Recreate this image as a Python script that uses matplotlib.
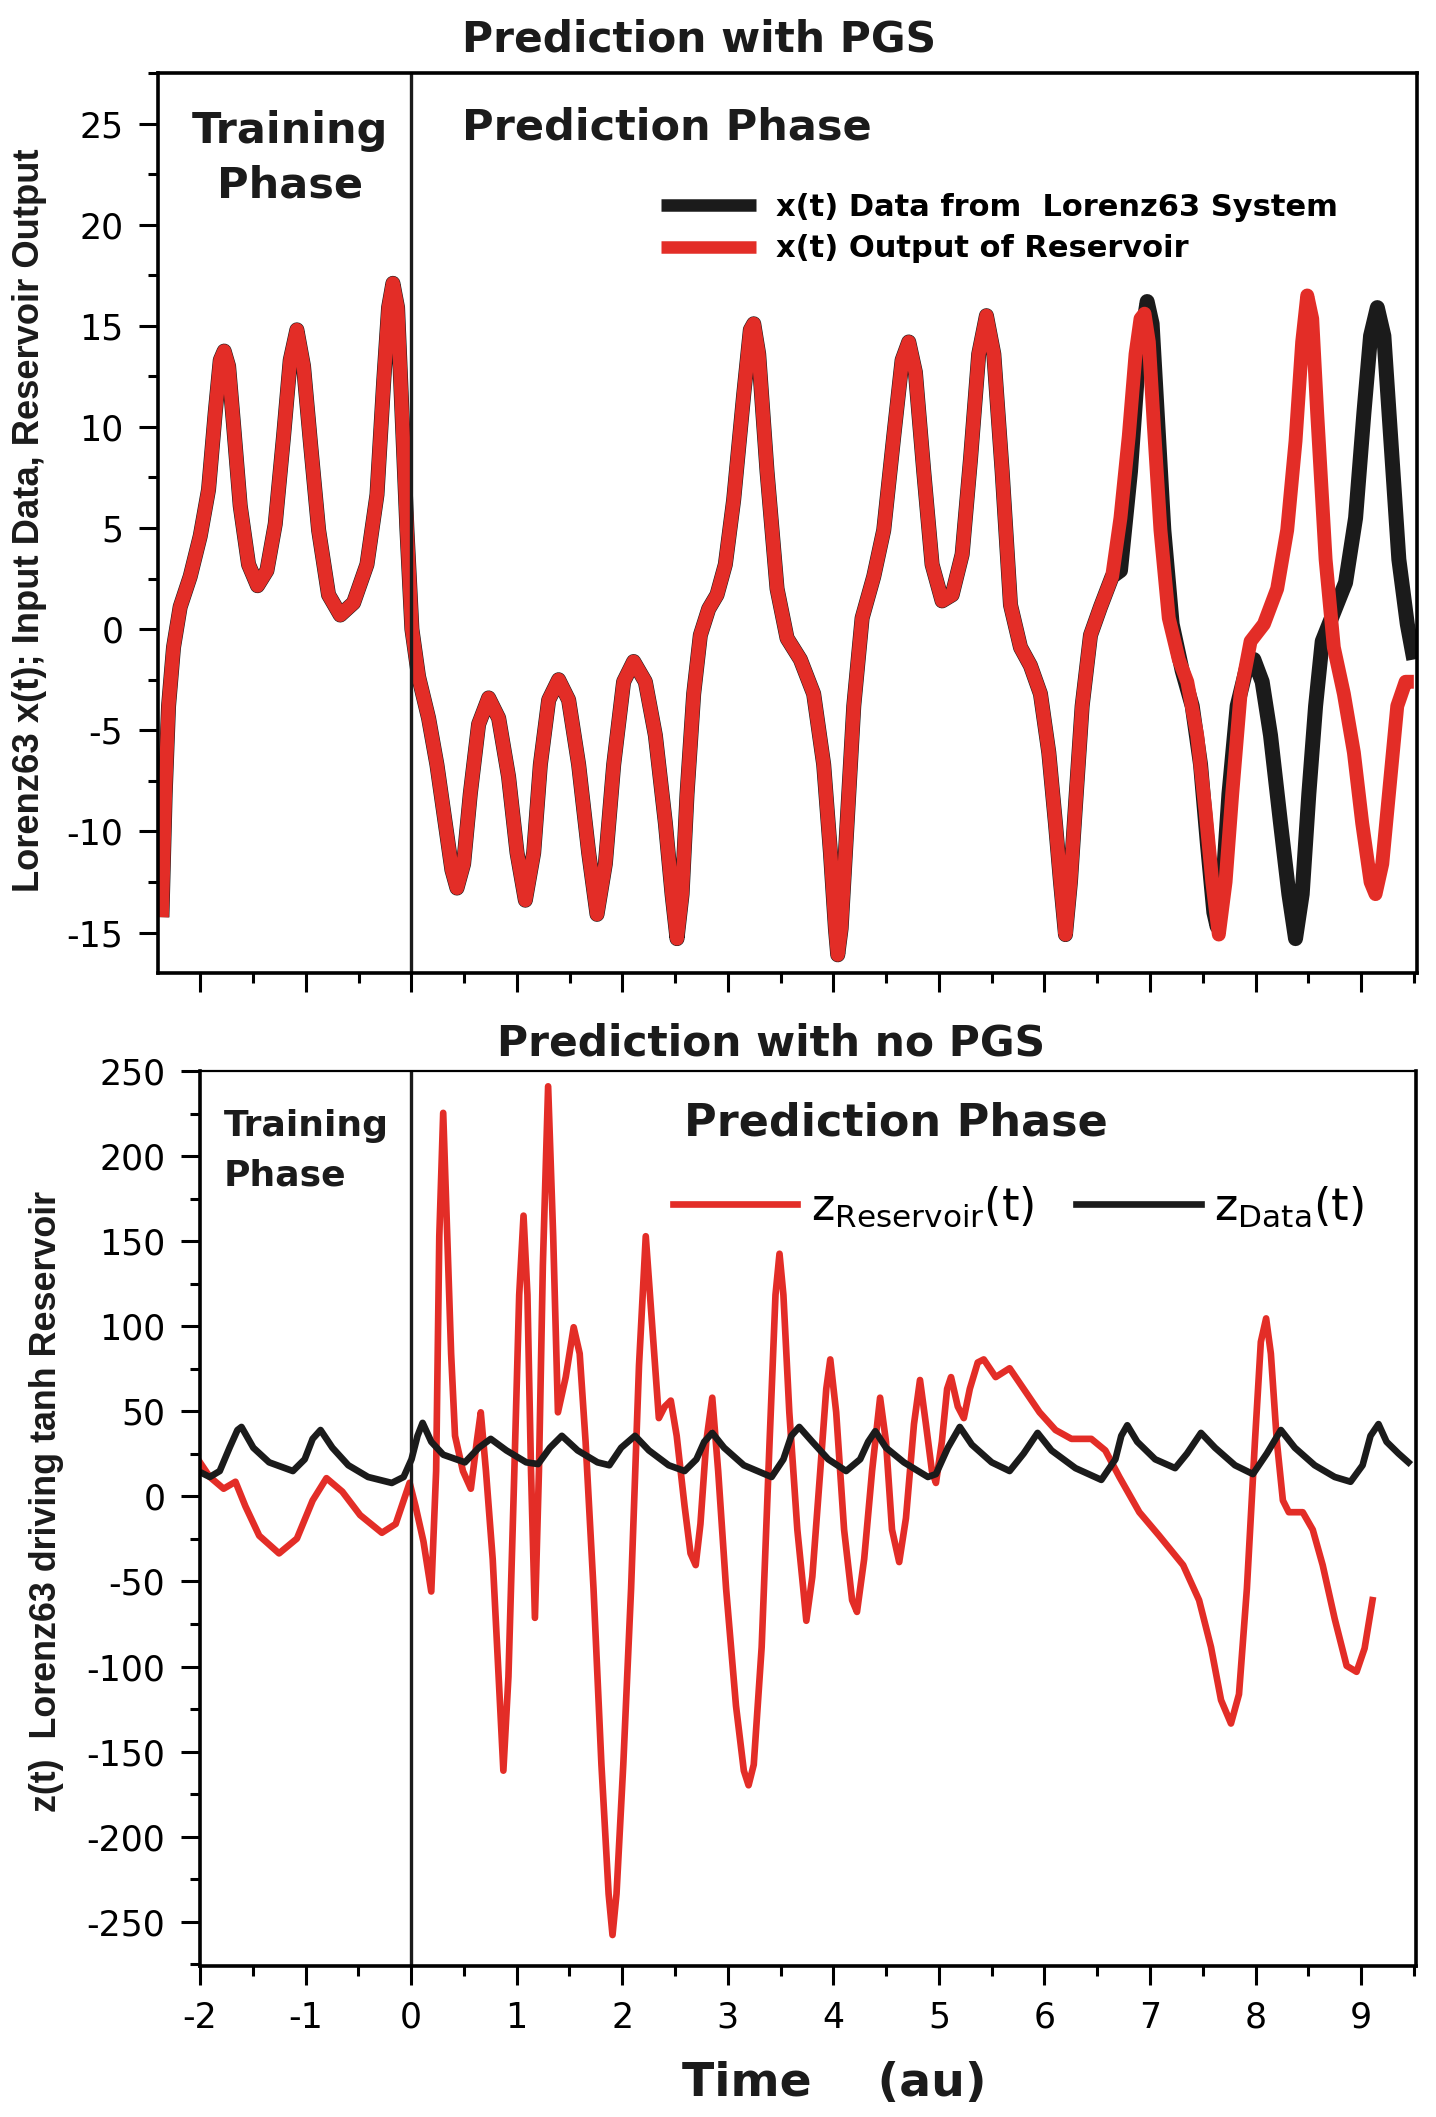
import matplotlib
matplotlib.use("Agg")
import matplotlib.pyplot as plt
from matplotlib import font_manager
from matplotlib.ticker import MultipleLocator

# ── data (t, value) ───────────────────────────────────────────────────────────
# top panel, x(t) with PGS: data and reservoir coincide until t ~ 6.65
top_common = [
    (-2.363, -14.24), (-2.332, -8.15), (-2.300, -3.8), (-2.253, -0.9), (-2.190, 1.1),
    (-2.095, 2.6), (-2.000, 4.6), (-1.921, 6.9), (-1.858, 10.7), (-1.810, 13.3),
    (-1.773, 13.75), (-1.731, 13.0), (-1.684, 10.1), (-1.621, 6.1), (-1.542, 3.2),
    (-1.457, 2.15), (-1.368, 2.9), (-1.289, 5.2), (-1.210, 9.55), (-1.147, 13.3),
    (-1.084, 14.8), (-1.021, 13.0), (-0.957, 9.3), (-0.878, 4.9), (-0.784, 1.7),
    (-0.673, 0.7), (-0.547, 1.3), (-0.420, 3.2), (-0.325, 6.65), (-0.262, 12.2),
    (-0.215, 15.9), (-0.174, 17.1), (-0.130, 15.9), (-0.088, 10.7), (-0.041, 4.9),
    (0.006, 0.0), (0.069, -2.35), (0.164, -4.4), (0.243, -6.7), (0.322, -9.6),
    (0.385, -11.9), (0.433, -12.8), (0.496, -11.6), (0.559, -8.15), (0.638, -4.7),
    (0.733, -3.4), (0.828, -4.4), (0.922, -7.3), (1.002, -11.05), (1.081, -13.4),
    (1.160, -11.05), (1.223, -6.7), (1.302, -3.5), (1.396, -2.5), (1.491, -3.5),
    (1.586, -6.7), (1.681, -11.05), (1.760, -14.1), (1.839, -11.6), (1.918, -6.7),
    (2.012, -2.6), (2.107, -1.6), (2.218, -2.6), (2.313, -5.25), (2.408, -9.6),
    (2.471, -13.1), (2.518, -15.3), (2.566, -13.1), (2.613, -8.15), (2.676, -3.2),
    (2.739, -0.3), (2.818, 1.0), (2.897, 1.7), (2.976, 3.2), (3.055, 6.4),
    (3.150, 11.6), (3.213, 14.8), (3.245, 15.1), (3.292, 13.6), (3.371, 7.8),
    (3.466, 2.0), (3.561, -0.45), (3.687, -1.5), (3.813, -3.2), (3.908, -6.7),
    (3.972, -11.05), (4.019, -14.8), (4.041, -16.1), (4.073, -14.8), (4.130, -9.6),
    (4.193, -3.8), (4.272, 0.55), (4.382, 2.6), (4.477, 4.9), (4.572, 9.55),
    (4.651, 13.3), (4.714, 14.2), (4.777, 12.7), (4.856, 7.8), (4.935, 3.2),
    (5.030, 1.4), (5.125, 1.7), (5.220, 3.7), (5.299, 8.4), (5.377, 13.6),
    (5.450, 15.5), (5.520, 13.6), (5.599, 7.8), (5.678, 1.2), (5.773, -0.9),
    (5.867, -1.8), (5.962, -3.2), (6.041, -6.1), (6.104, -9.6), (6.152, -12.5),
    (6.199, -15.1), (6.246, -12.5), (6.294, -8.7), (6.357, -3.8), (6.436, -0.3),
    (6.531, 1.1), (6.641, 2.6),
]
top_data_tail = [
    (6.720, 2.9), (6.815, 7.8), (6.894, 13.6), (6.973, 16.2), (7.020, 15.1),
    (7.068, 10.7), (7.131, 4.9), (7.210, 0.25), (7.305, -2.05), (7.400, -3.8),
    (7.479, -6.7), (7.542, -10.5), (7.605, -14.0), (7.636, -14.7), (7.684, -13.1),
    (7.748, -8.15), (7.826, -3.8), (7.920, -1.8), (7.984, -1.5), (8.063, -2.6),
    (8.142, -5.25), (8.237, -9.6), (8.316, -13.1), (8.379, -15.3), (8.442, -13.1),
    (8.505, -8.15), (8.569, -3.8), (8.632, -0.6), (8.742, 0.85), (8.853, 2.3),
    (8.948, 5.5), (9.027, 10.7), (9.090, 14.5), (9.154, 15.9), (9.216, 14.5),
    (9.280, 9.55), (9.358, 3.45), (9.438, 0.25), (9.500, -1.5),
]
top_res_tail = [
    (6.720, 5.5), (6.799, 9.55), (6.863, 13.6), (6.910, 15.35), (6.948, 15.6),
    (6.989, 14.2), (7.036, 10.1), (7.099, 4.9), (7.178, 0.55), (7.273, -1.5),
    (7.353, -2.6), (7.447, -5.25), (7.526, -9.0), (7.590, -12.5), (7.652, -15.1),
    (7.716, -12.5), (7.779, -8.15), (7.858, -3.2), (7.953, -0.6), (8.079, 0.25),
    (8.205, 2.0), (8.300, 4.9), (8.379, 9.3), (8.442, 14.2), (8.490, 16.5),
    (8.537, 15.35), (8.584, 10.7), (8.664, 3.45), (8.742, -0.9), (8.837, -3.2),
    (8.932, -6.1), (9.011, -9.6), (9.090, -12.5), (9.137, -13.1), (9.201, -11.6),
    (9.264, -8.15), (9.343, -3.8), (9.422, -2.6), (9.500, -2.6),
]

# bottom panel, z(t) without PGS
bot_res = [
    (-2.02, 21.8), (-1.907, 11.4), (-1.776, 4.5), (-1.664, 8.6), (-1.570, -5.8),
    (-1.439, -23.1), (-1.251, -33.5), (-1.082, -24.8), (-0.933, -2.4), (-0.802, 10.7),
    (-0.652, 2.8), (-0.483, -11.0), (-0.277, -21.4), (-0.146, -16.2), (-0.052, 1.1),
    (-0.014, 8.0), (0.042, -5.8), (0.117, -26.5), (0.191, -55.9), (0.237, 14.9),
    (0.267, 152.9), (0.304, 225.4), (0.342, 152.9), (0.379, 83.9), (0.416, 35.6),
    (0.491, 14.9), (0.566, 4.5), (0.622, 32.1), (0.660, 49.4), (0.709, 14.9),
    (0.773, -36.9), (0.829, -106), (0.874, -161.2), (0.922, -106), (0.978, 14.9),
    (1.024, 118.4), (1.065, 165), (1.102, 118.4), (1.136, 14.9), (1.173, -71.4),
    (1.211, 14.9), (1.248, 135.6), (1.298, 241), (1.346, 152.9), (1.391, 49.4),
    (1.465, 70.1), (1.540, 99.4), (1.597, 83.9), (1.653, 32.1), (1.728, -54.2),
    (1.803, -157.7), (1.871, -233.6), (1.908, -257.8), (1.946, -233.6), (2.010, -157.7),
    (2.084, -54.2), (2.159, 77), (2.223, 152.9), (2.283, 101.2), (2.347, 46),
    (2.403, 52.8), (2.460, 56.3), (2.516, 35.6), (2.591, -5.8), (2.647, -33.5),
    (2.696, -40.4), (2.741, -16.2), (2.796, 32.1), (2.853, 58), (2.909, 14.9),
    (2.984, -54.2), (3.078, -123.2), (3.152, -161.2), (3.197, -169.8), (3.246, -157.7),
    (3.321, -88.6), (3.396, 32.1), (3.452, 118.4), (3.490, 142.6), (3.527, 118.4),
    (3.583, 49.4), (3.659, -19.6), (3.715, -54.2), (3.744, -73.1), (3.801, -47.2),
    (3.876, 14.9), (3.933, 63.2), (3.971, 80.5), (4.027, 49.4), (4.102, -19.6),
    (4.178, -61), (4.224, -67.9), (4.292, -36.9), (4.367, 14.9), (4.443, 58),
    (4.499, 32.1), (4.556, -19.6), (4.624, -38.6), (4.688, -12.8), (4.764, 42.5),
    (4.821, 68.4), (4.877, 42.5), (4.934, 14.9), (4.972, 7.9), (5.028, 32.1),
    (5.078, 63.2), (5.115, 70.1), (5.179, 52.8), (5.236, 46), (5.293, 63.2),
    (5.368, 78.7), (5.425, 80.5), (5.538, 70.1), (5.670, 75.3), (5.803, 63.2),
    (5.954, 49.4), (6.105, 39), (6.256, 33.8), (6.444, 33.8), (6.577, 27),
    (6.710, 11.4), (6.899, -9.3), (7.087, -23.1), (7.314, -40.4), (7.465, -61),
    (7.578, -88.6), (7.673, -119.7), (7.767, -133.5), (7.843, -116.3), (7.918, -54.2),
    (7.994, 32.1), (8.050, 90.8), (8.100, 104.6), (8.145, 83.9), (8.202, 32.1),
    (8.259, -2.4), (8.315, -9.3), (8.447, -9.3), (8.542, -19.6), (8.636, -40.4),
    (8.750, -72), (8.863, -99.6), (8.957, -103.1), (9.033, -89.3), (9.108, -61),
]
bot_data = [
    (-2.02, 14.9), (-1.907, 11.4), (-1.813, 14.9), (-1.720, 28.6), (-1.645, 39),
    (-1.607, 40.8), (-1.495, 28.6), (-1.345, 20), (-1.120, 14.9), (-1.008, 21.8),
    (-0.933, 33.8), (-0.858, 39), (-0.746, 28.6), (-0.595, 18.3), (-0.408, 11.4),
    (-0.183, 7.9), (-0.071, 11.4), (0.004, 21.8), (0.061, 35.6), (0.109, 43.2),
    (0.191, 32.1), (0.304, 24.5), (0.510, 20), (0.641, 28.6), (0.754, 33.8),
    (0.903, 27), (1.091, 20), (1.203, 19), (1.315, 28.6), (1.428, 35.6),
    (1.578, 27), (1.766, 20), (1.878, 18.3), (1.990, 28.6), (2.121, 35.6),
    (2.253, 27), (2.440, 18.3), (2.591, 14.9), (2.703, 21.8), (2.777, 32.1),
    (2.853, 37.3), (2.965, 28.6), (3.152, 18.3), (3.415, 11.4), (3.527, 21.8),
    (3.602, 35.6), (3.677, 40.8), (3.801, 32.1), (3.952, 21.8), (4.121, 14.9),
    (4.254, 21.8), (4.330, 32.1), (4.397, 38.3), (4.499, 28.6), (4.669, 20),
    (4.896, 11.4), (4.972, 13.1), (5.085, 28.6), (5.198, 40.8), (5.312, 30.4),
    (5.500, 20), (5.670, 14.9), (5.803, 25.2), (5.935, 37.3), (6.067, 27),
    (6.294, 16.6), (6.539, 9.7), (6.672, 21.8), (6.728, 35.6), (6.785, 41.8),
    (6.879, 32.1), (7.049, 21.8), (7.238, 16.6), (7.351, 25.2), (7.483, 37.3),
    (7.616, 28.6), (7.805, 18.3), (7.975, 13.1), (8.107, 25.2), (8.240, 39),
    (8.372, 28.6), (8.560, 18.3), (8.750, 11.4), (8.900, 8.6), (9.014, 18.3),
    (9.089, 35.6), (9.165, 42.5), (9.241, 32.1), (9.354, 25.2), (9.448, 20),
]

# ── style ─────────────────────────────────────────────────────────────────────
RED = "#e32d27"
BLK = "#1b1b1b"
W, H = 1436, 2117

plt.rcParams["font.family"] = "DejaVu Sans"
plt.rcParams["axes.unicode_minus"] = False

# narrow bold face for the y labels, whichever is installed
names = {f.name for f in font_manager.fontManager.ttflist}
if "Liberation Sans Narrow" in names:
    YFONT, YSIZE = "Liberation Sans Narrow", (28, 28)
elif "Liberation Sans" in names:
    YFONT, YSIZE = "Liberation Sans", (26.2, 25.8)
else:
    YFONT, YSIZE = "DejaVu Sans", (21.8, 23)


def fx(px):
    return px / W


def fy(py):
    return 1 - py / H


def unzip(pairs):
    return [p[0] for p in pairs], [p[1] for p in pairs]


def style_axes(ax, spine_w=2.6):
    for s in ax.spines.values():
        s.set_linewidth(spine_w)
    ax.tick_params(which="major", direction="out", length=14, width=2.2,
                   labelsize=25, pad=11, right=False, top=False)
    ax.tick_params(which="minor", direction="out", length=7, width=2.2,
                   right=False, top=False)
    ax.xaxis.set_major_locator(MultipleLocator(1))
    ax.xaxis.set_minor_locator(MultipleLocator(0.5))


fig = plt.figure(figsize=(W / 100, H / 100), dpi=100)

# ── top panel ─────────────────────────────────────────────────────────────────
ax1 = fig.add_axes([fx(158), fy(973), fx(1417) - fx(158), fy(73) - fy(973)])
t_d, x_d = unzip(top_common + top_data_tail)
t_r, x_r = unzip(top_common + top_res_tail)
ax1.plot(t_d, x_d, color=BLK, lw=10.8, solid_joinstyle="round",
         solid_capstyle="butt", label="x(t) Data from  Lorenz63 System")
ax1.plot(t_r, x_r, color=RED, lw=10.0, solid_joinstyle="round",
         solid_capstyle="butt", label="x(t) Output of Reservoir")
ax1.axvline(0, color=BLK, lw=2.4)
ax1.set_xlim(-2.4, 9.53)
ax1.set_ylim(-17, 27.5)
style_axes(ax1)
ax1.yaxis.set_major_locator(MultipleLocator(5))
ax1.yaxis.set_minor_locator(MultipleLocator(2.5))
ax1.tick_params(axis="x", labelbottom=False)
leg1 = ax1.legend(loc="center left", bbox_to_anchor=(fx(661), fy(228)),
                  bbox_transform=fig.transFigure, frameon=False, borderpad=0,
                  borderaxespad=0, handlelength=3.1, handletextpad=0.65,
                  labelspacing=0.42, prop={"size": 22, "weight": "bold"})
for ln in leg1.get_lines():
    ln.set_linewidth(9)

# ── bottom panel ──────────────────────────────────────────────────────────────
ax2 = fig.add_axes([fx(200), fy(1966), fx(1416) - fx(200), fy(1071) - fy(1966)])
t_br, z_br = unzip(bot_res)
t_bd, z_bd = unzip(bot_data)
ax2.plot(t_br, z_br, color=RED, lw=4.8, solid_joinstyle="round",
         label=r"z$_{\mathregular{Reservoir}}$(t)")
ax2.plot(t_bd, z_bd, color=BLK, lw=4.8, solid_joinstyle="round",
         label=r"z$_{\mathregular{Data}}$(t)")
ax2.axvline(0, color=BLK, lw=2.4)
ax2.set_xlim(-2, 9.52)
ax2.set_ylim(-276, 250)
style_axes(ax2)
ax2.spines["top"].set_linewidth(1.6)
ax2.yaxis.set_major_locator(MultipleLocator(50))
ax2.yaxis.set_minor_locator(MultipleLocator(25))
ax2.legend(loc="center left", bbox_to_anchor=(fx(673), fy(1207)),
           bbox_transform=fig.transFigure, frameon=False, borderpad=0,
           borderaxespad=0, ncol=2, handlelength=2.8, handletextpad=0.3,
           columnspacing=0.95, prop={"size": 32})

# ── texts ─────────────────────────────────────────────────────────────────────
fig.text(fx(699), fy(40), "Prediction with PGS", ha="center", va="center",
         fontsize=30.5, fontweight="bold", color=BLK)
fig.text(fx(290), fy(131), "Training", ha="center", va="center",
         fontsize=31, fontweight="bold", color=BLK)
fig.text(fx(290), fy(186), "Phase", ha="center", va="center",
         fontsize=31, fontweight="bold", color=BLK)
fig.text(fx(667), fy(128), "Prediction Phase", ha="center", va="center",
         fontsize=31, fontweight="bold", color=BLK)

fig.text(fx(771), fy(1043), "Prediction with no PGS", ha="center", va="center",
         fontsize=30.5, fontweight="bold", color=BLK)
fig.text(fx(224), fy(1126), "Training", ha="left", va="center",
         fontsize=26, fontweight="bold", color=BLK)
fig.text(fx(224), fy(1175), "Phase", ha="left", va="center",
         fontsize=26, fontweight="bold", color=BLK)
fig.text(fx(896), fy(1123), "Prediction Phase", ha="center", va="center",
         fontsize=32, fontweight="bold", color=BLK)

fig.text(fx(834), fy(2083), "Time    (au)", ha="center", va="center",
         fontsize=34, fontweight="bold", color=BLK)
fig.text(fx(30), fy(520), "Lorenz63 x(t); Input Data, Reservoir Output",
         rotation=90, ha="center", va="center", fontsize=YSIZE[0],
         fontweight="bold", family=YFONT, color=BLK)
fig.text(fx(47), fy(1502), "z(t)  Lorenz63 driving tanh Reservoir",
         rotation=90, ha="center", va="center", fontsize=YSIZE[1],
         fontweight="bold", family=YFONT, color=BLK)

fig.savefig("out.png", dpi=100)
